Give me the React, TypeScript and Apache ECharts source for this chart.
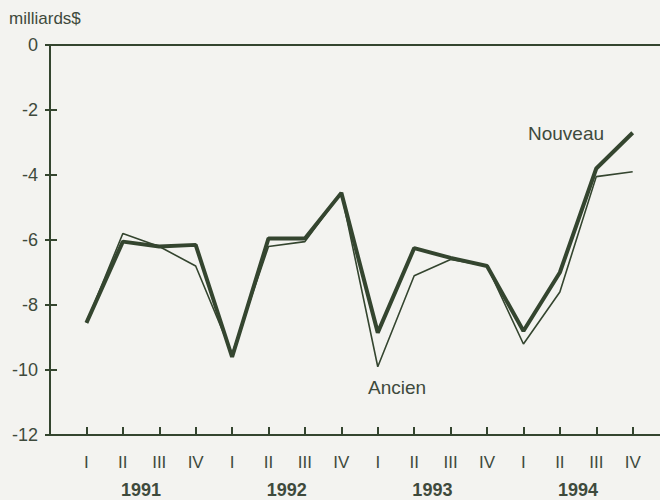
import React, { useEffect, useRef } from "react";
import * as echarts from "echarts";

const quarters = ["I", "II", "III", "IV", "I", "II", "III", "IV", "I", "II", "III", "IV", "I", "II", "III", "IV"];
const years = ["1991", "1992", "1993", "1994"];
const yearCenters = [2.5, 6.5, 10.5, 14.5];
const nouveau = [-8.55, -6.05, -6.2, -6.15, -9.6, -5.95, -5.95, -4.55, -8.85, -6.25, -6.55, -6.8, -8.8, -7.0, -3.8, -2.7];
const ancien = [-8.55, -5.8, -6.2, -6.8, -9.5, -6.2, -6.05, -4.55, -9.9, -7.1, -6.6, -6.8, -9.2, -7.6, -4.05, -3.9];
const yTicks = [0, -2, -4, -6, -8, -10, -12];

const INK = "#34452f";
const TEXT = "#3e4a3c";
const FONT = "'Liberation Sans', Arial, Helvetica, sans-serif";

export default function App() {
  const ref = useRef<HTMLDivElement>(null);
  useEffect(() => {
    document.body.style.margin = "0";
    const chart = echarts.init(ref.current!, undefined, { renderer: "svg" });
    const xs = quarters.map((_, i) => i + 1);
    chart.setOption({
      animation: false,
      backgroundColor: "#f3f3f0",
      textStyle: { fontFamily: FONT },
      grid: { left: 50, top: 45, width: 610, height: 390 },
      xAxis: [
        {
          type: "value",
          min: 0,
          max: 16.75,
          position: "bottom",
          splitLine: { show: false },
          axisLine: { show: true, onZero: false, lineStyle: { color: INK, width: 2 } },
          axisTick: { show: true, inside: true, length: 8, customValues: xs, lineStyle: { color: INK, width: 2 } },
          axisLabel: {
            customValues: xs,
            formatter: (v: number) => quarters[Math.round(v) - 1] ?? "",
            color: TEXT,
            fontSize: 17,
            margin: 19,
            fontFamily: FONT,
          },
        },
        {
          type: "value",
          min: 0,
          max: 16.75,
          position: "bottom",
          offset: 30,
          splitLine: { show: false },
          axisLine: { show: false },
          axisTick: { show: false },
          axisLabel: {
            customValues: yearCenters,
            formatter: (v: number) => years[yearCenters.indexOf(v)] ?? "",
            color: TEXT,
            fontSize: 18,
            fontWeight: "bold",
            margin: 16,
            fontFamily: FONT,
          },
        },
        {
          type: "value",
          min: 0,
          max: 16.75,
          position: "top",
          splitLine: { show: false },
          axisLine: { show: true, onZero: false, lineStyle: { color: INK, width: 2 } },
          axisTick: { show: false },
          axisLabel: { show: false },
        },
      ],
      yAxis: [
        {
          type: "value",
          min: -12,
          max: 0,
          interval: 2,
          position: "left",
          splitLine: { show: false },
          axisLine: { show: true, onZero: false, lineStyle: { color: INK, width: 2 } },
          axisTick: { show: true, inside: true, length: 7, lineStyle: { color: INK, width: 2 } },
          axisLabel: {
            customValues: yTicks,
            color: TEXT,
            fontSize: 18,
            margin: 12,
            fontFamily: FONT,
          },
        },
        {
          type: "value",
          min: -12,
          max: 0,
          interval: 2,
          position: "right",
          splitLine: { show: false },
          axisLine: { show: false },
          axisTick: { show: true, inside: true, length: 5, lineStyle: { color: INK, width: 2 } },
          axisLabel: { show: false },
        },
      ],
      series: [
        {
          name: "Ancien",
          type: "line",
          data: ancien.map((v, i) => [xs[i], v]),
          symbol: "none",
          lineStyle: { color: INK, width: 1.6 },
          z: 3,
        },
        {
          name: "Nouveau",
          type: "line",
          data: nouveau.map((v, i) => [xs[i], v]),
          symbol: "none",
          lineStyle: { color: INK, width: 4 },
          z: 4,
        },
      ],
      graphic: [
        { type: "text", left: 9, top: 10, style: { text: "milliards$", fill: TEXT, fontSize: 17, fontFamily: FONT } },
        { type: "text", left: 528, top: 124, style: { text: "Nouveau", fill: TEXT, fontSize: 19, fontFamily: FONT } },
        { type: "text", left: 368, top: 378, style: { text: "Ancien", fill: TEXT, fontSize: 19, fontFamily: FONT } },
      ],
    });
    return () => chart.dispose();
  }, []);
  return <div ref={ref} style={{ width: 660, height: 500 }} />;
}
